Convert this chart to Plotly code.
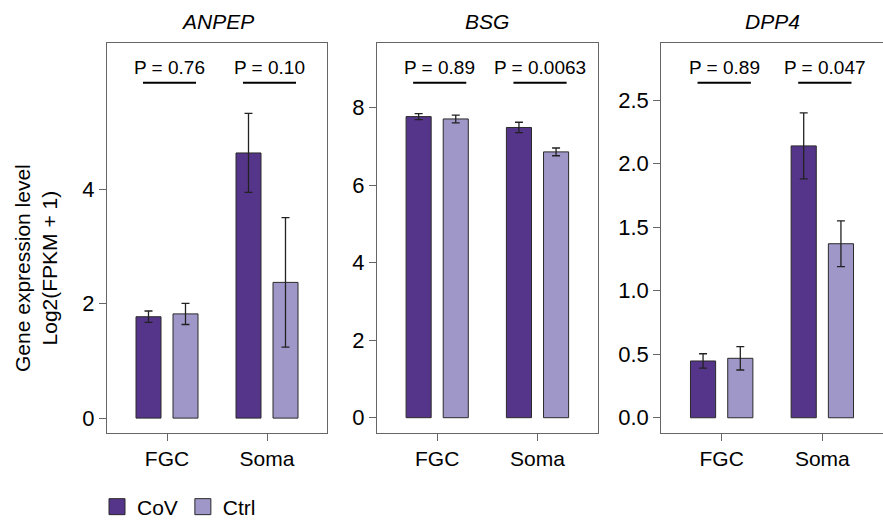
import plotly.graph_objects as go

categories = ["FGC", "Soma"]
genes = ["ANPEP", "BSG", "DPP4"]
cov_vals = {"ANPEP": [1.77, 4.63], "BSG": [7.77, 7.49], "DPP4": [0.447, 2.14]}
cov_err = {"ANPEP": [0.10, 0.69], "BSG": [0.075, 0.135], "DPP4": [0.057, 0.26]}
ctrl_vals = {"ANPEP": [1.82, 2.37], "BSG": [7.71, 6.86], "DPP4": [0.468, 1.37]}
ctrl_err = {"ANPEP": [0.185, 1.13], "BSG": [0.10, 0.10], "DPP4": [0.092, 0.18]}
pvals = {"ANPEP": ["P = 0.76", "P = 0.10"], "BSG": ["P = 0.89", "P = 0.0063"],
         "DPP4": ["P = 0.89", "P = 0.047"]}
yticks = {"ANPEP": [0, 2, 4], "BSG": [0, 2, 4, 6, 8], "DPP4": [0, 0.5, 1.0, 1.5, 2.0, 2.5]}
yranges = {"ANPEP": [-0.26, 6.55], "BSG": [-0.395, 9.67], "DPP4": [-0.12, 2.95]}
series_names = ["CoV", "Ctrl"]

W, H = 883, 528
FONT = "Liberation Sans, Arial, sans-serif"
COV_COLOR = "#55358A"
CTRL_COLOR = "#9E97C8"
xdomains = [[107 / W, 327 / W], [377 / W, 597.7 / W], [661.3 / W, 882.7 / W]]
ydomain = [1 - 433 / H, 1 - 43 / H]

fig = go.Figure()
xpos = [0, 1]
for i, g in enumerate(genes):
    n = "" if i == 0 else str(i + 1)
    fig.add_trace(go.Bar(
        x=xpos, y=cov_vals[g], width=0.25, offset=-0.31, name="CoV",
        marker=dict(color=COV_COLOR, line=dict(color="#2a2a2a", width=1)),
        error_y=dict(type="data", array=cov_err[g], color="#222", thickness=1.3, width=4),
        xaxis="x" + n, yaxis="y" + n, showlegend=False))
    fig.add_trace(go.Bar(
        x=xpos, y=ctrl_vals[g], width=0.25, offset=0.06, name="Ctrl",
        marker=dict(color=CTRL_COLOR, line=dict(color="#2a2a2a", width=1)),
        error_y=dict(type="data", array=ctrl_err[g], color="#222", thickness=1.3, width=4),
        xaxis="x" + n, yaxis="y" + n, showlegend=False))

    axis_common = dict(showline=True, mirror=True, linecolor="#666", linewidth=1.2,
                       ticks="outside", ticklen=7, tickcolor="#666", tickwidth=1.2,
                       showgrid=False, zeroline=False)
    fig.layout["xaxis" + n] = dict(domain=xdomains[i], range=[-0.6, 1.6],
                                   tickvals=xpos, ticktext=categories,
                                   tickfont=dict(family=FONT, size=21, color="#000"),
                                   anchor="y" + n, **axis_common)
    fig.layout["yaxis" + n] = dict(domain=ydomain, range=yranges[g],
                                   tickvals=yticks[g],
                                   tickformat=".1f" if g == "DPP4" else "d",
                                   tickfont=dict(family=FONT, size=22, color="#000"),
                                   anchor="x" + n, **axis_common)
    # title
    fig.add_annotation(text="<i>" + g + "</i>", xref="x" + n + " domain", x=0.5,
                       yref="paper", y=1 - 22 / H, showarrow=False,
                       font=dict(family=FONT, size=21, color="#000"),
                       xanchor="center", yanchor="middle")
    # p-values
    for j, c in enumerate(xpos):
        fig.add_shape(type="line", xref="x" + n, yref="y" + n + " domain",
                      x0=c - 0.24, x1=c + 0.29, y0=0.898, y1=0.898,
                      line=dict(color="#000", width=2))
        fig.add_annotation(text=pvals[g][j], xref="x" + n, x=c + 0.025,
                           yref="y" + n + " domain", y=0.936, showarrow=False,
                           font=dict(family=FONT, size=19, color="#000"),
                           xanchor="center", yanchor="middle")

# legend entries
for name, col in zip(series_names, [COV_COLOR, CTRL_COLOR]):
    fig.add_trace(go.Scatter(x=[None], y=[None], mode="markers", name=name,
                             marker=dict(symbol="square", size=16, color=col,
                                         line=dict(color="#2a2a2a", width=1)),
                             showlegend=True))

fig.add_annotation(text="Gene expression level<br>Log2(FPKM + 1)", textangle=-90,
                   xref="paper", x=36 / W, yref="paper", y=1 - 268 / H,
                   showarrow=False, xanchor="center", yanchor="middle",
                   font=dict(family=FONT, size=21, color="#000"))

fig.update_layout(
    width=W, height=H, margin=dict(l=0, r=0, t=0, b=0),
    paper_bgcolor="white", plot_bgcolor="white", barmode="group",
    font=dict(family=FONT, size=21, color="#000"),
    legend=dict(orientation="h", x=97 / W, y=1 - 507 / H, xanchor="left",
                yanchor="middle", font=dict(family=FONT, size=21, color="#000"),
                itemwidth=30, tracegroupgap=0, itemsizing="trace"),
)
fig.write_html("out.html")
